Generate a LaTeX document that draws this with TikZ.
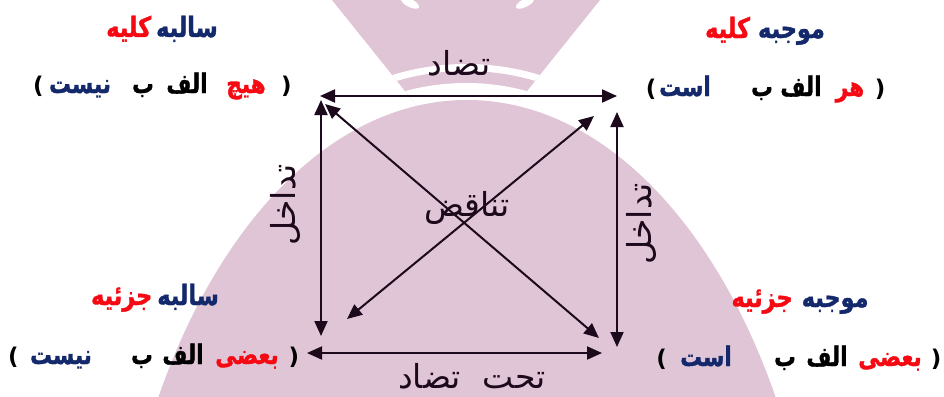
\documentclass[tikz,border=0pt]{standalone}
\usepackage{fontspec}
\usetikzlibrary{arrows.meta}
\TeXXeTstate=1
\newfontfamily\arb[Script=Arabic]{DejaVu Sans}
\newfontfamily\arbc[Script=Arabic,FakeStretch=0.8,FakeBold=1.2]{DejaVu Sans}
\definecolor{mynavy}{HTML}{14296B}
\definecolor{myred}{HTML}{F50A14}
\definecolor{mypink}{HTML}{E0C5D7}
\definecolor{ink}{HTML}{1C0A1C}
\tikzset{
  arr/.style={draw=ink, line width=2pt, {Triangle[length=15pt,width=13pt]}-{Triangle[length=15pt,width=13pt]}},
  wd/.style={anchor=base, inner sep=0pt, font=\arbc\bfseries\fontsize{27}{32}\selectfont},
  par/.style={anchor=base, inner sep=0pt, font=\arb\bfseries\fontsize{23}{28}\selectfont},
  ttl/.style={anchor=base, inner sep=0pt, font=\arbc\bfseries\fontsize{28}{32}\selectfont},
  lbl/.style={inner sep=0pt, text=ink, font=\arb\fontsize{33}{38}\selectfont},
}
\begin{document}
\begin{tikzpicture}[x=1pt,y=-1pt]
\useasboundingbox (0,0) rectangle (944,396);
\begin{scope}
  \clip (0,0) rectangle (944,396);
  \fill[white] (0,0) rectangle (944,396);
  % top wedge with rings
  \begin{scope}
    \clip (332,0) -- (600,0) -- (466,167) -- cycle;
    \fill[mypink] (0,0) rectangle (944,396);
    \fill[white] (466,314) circle (250pt);
    \fill[mypink] (466,314) circle (243pt);
    \fill[white] (466,314) circle (231pt);
    \fill[white, rotate around={-27:(410,3)}] (410,3) ellipse [x radius=10pt, y radius=4pt];
    \fill[white, rotate around={27:(525,3)}] (525,3) ellipse [x radius=10pt, y radius=4pt];
  \end{scope}
  % dome
  \fill[mypink] (467,693) ellipse [x radius=356pt, y radius=593pt];
\end{scope}

% arrow end points
\coordinate (a1) at (320,96);  \coordinate (a2) at (617,96);
\coordinate (b1) at (321,100); \coordinate (b2) at (321,336);
\coordinate (c1) at (617,112); \coordinate (c2) at (617,347);
\coordinate (d1) at (307,353); \coordinate (d2) at (602,353);
\coordinate (e1) at (325,104); \coordinate (e2) at (599,338);
\coordinate (f1) at (594,116); \coordinate (f2) at (347,319);

\draw[arr] (a1) -- (a2);
\draw[arr] (b1) -- (b2);
\draw[arr] (c1) -- (c2);
\draw[arr] (d1) -- (d2);
\draw[arr] (e1) -- (e2);
\draw[arr] (f1) -- (f2);

% middle labels
\node[lbl, anchor=base] (ltop) at (459,75) {\beginR تضاد\endR};
\node[lbl, anchor=base] (lmid) at (467,216) {\beginR تناقض\endR};
\node[lbl, anchor=base] (lbot) at (472,388) {\beginR تحت\hspace{22pt}تضاد\endR};
\node[lbl, rotate=90] (lleft) at (285,205) {\beginR تداخل\endR};
\node[lbl, rotate=90] (lright) at (641,224) {\beginR تداخل\endR};

% top-left
\node[ttl] (tlt) at (162,37) {\textcolor{myred}{\beginR کلیه\endR}\hspace{5pt}\textcolor{mynavy}{\beginR سالبه\endR}};
\node[par] (tlp1) at (38.5,93) {)};
\node[wd, text=mynavy] (tln) at (80,93) {\beginR نیست\endR};
\node[wd] (tlb) at (143,93) {\beginR ب\endR};
\node[wd] (tla) at (187,93) {\beginR الف\endR};
\node[wd, text=myred] (tlh) at (246,93) {\beginR هیچ\endR};
\node[par] (tlp2) at (286.5,93) {(};

% top-right
\node[ttl] (trt) at (765,38) {\textcolor{myred}{\beginR کلیه\endR}\hspace{8pt}\textcolor{mynavy}{\beginR موجبه\endR}};
\node[par] (trp1) at (651,96) {)};
\node[wd, text=mynavy] (trn) at (685,96) {\beginR است\endR};
\node[wd] (trb) at (762,96) {\beginR ب\endR};
\node[wd] (tra) at (801,96) {\beginR الف\endR};
\node[wd, text=myred] (trh) at (850,96) {\beginR هر\endR};
\node[par] (trp2) at (880,96) {(};

% bottom-left
\node[ttl] (blt) at (155,305) {\textcolor{myred}{\beginR جزئیه\endR}\hspace{5pt}\textcolor{mynavy}{\beginR سالبه\endR}};
\node[par] (blp1) at (13.5,364) {)};
\node[wd, text=mynavy] (bln) at (61,364) {\beginR نیست\endR};
\node[wd] (blb) at (142,364) {\beginR ب\endR};
\node[wd] (bla) at (183,364) {\beginR الف\endR};
\node[wd, text=myred] (blh) at (247,364) {\beginR بعضی\endR};
\node[par] (blp2) at (294,364) {(};

% bottom-right
\node[ttl] (brt) at (800,307) {\textcolor{myred}{\beginR جزئیه\endR}\hspace{9pt}\textcolor{mynavy}{\beginR موجبه\endR}};
\node[par] (brp1) at (661.5,366) {)};
\node[wd, text=mynavy] (brn) at (706,366) {\beginR است\endR};
\node[wd] (brb) at (785,366) {\beginR ب\endR};
\node[wd] (bra) at (827,366) {\beginR الف\endR};
\node[wd, text=myred] (brh) at (890,366) {\beginR بعضی\endR};
\node[par] (brp2) at (936,366) {(};
\end{tikzpicture}
\end{document}
